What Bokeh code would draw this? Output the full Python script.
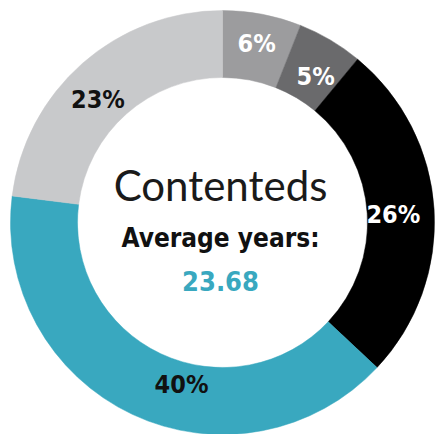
import math
from bokeh.plotting import figure
from bokeh.models import Range1d, ColumnDataSource
from bokeh.core.properties import value
from bokeh.embed import file_html
from bokeh.resources import INLINE

# ---- data ----
categories = ["A", "B", "C", "D", "E"]
shares = [6, 5, 26, 40, 23]
labels = ["6%", "5%", "26%", "40%", "23%"]
title_text = "Contenteds"
subtitle_text = "Average years:"
avg_text = "23.68"

# ---- style ----
colors = ["#9c9c9e", "#6a6a6c", "#000000", "#39a8bf", "#c8c9cb"]
label_colors = ["#ffffff", "#ffffff", "#ffffff", "#111111", "#111111"]
label_nudge_deg = [0, -2, -1, 11, 4]
label_radius = [182, 173, 171, 167, 175]
cond = value("DejaVu Sans Condensed")

W, H = 435, 434
cx, cy = 222, 212
r_out, r_in = 212, 145

total = sum(shares)
starts, ends, lx, ly = [], [], [], []
cum = 0.0
for i, s in enumerate(shares):
    a0 = math.pi / 2 - 2 * math.pi * cum / total
    cum += s
    a1 = math.pi / 2 - 2 * math.pi * cum / total
    starts.append(a0)
    ends.append(a1)
    mid = (a0 + a1) / 2 + math.radians(label_nudge_deg[i])
    lx.append(cx + label_radius[i] * math.cos(mid))
    ly.append(cy + label_radius[i] * math.sin(mid))

src = ColumnDataSource(dict(cat=categories, start=starts, end=ends, color=colors,
                            lx=lx, ly=ly, label=labels, lcolor=label_colors))

p = figure(width=W, height=H, output_backend="svg", toolbar_location=None,
           x_range=Range1d(0, W), y_range=Range1d(0, H),
           min_border=0, outline_line_color=None)
p.axis.visible = False
p.grid.visible = False
p.background_fill_color = "white"
p.border_fill_color = "white"

p.annular_wedge(x=cx, y=cy, inner_radius=r_in, outer_radius=r_out,
                start_angle="start", end_angle="end", direction="clock",
                fill_color="color", line_color="color", line_width=0.5, source=src)

p.text(x="lx", y="ly", text="label", text_color="lcolor", source=src,
       text_font=cond, text_font_style="bold",
       text_font_size="25px", text_align="center", text_baseline="middle")

p.text(x=[220], y=[250], text=[title_text], text_color="#1a1a1a",
       text_font=value("Lato"), text_font_size="42px",
       text_align="center", text_baseline="middle")
p.text(x=[220], y=[197], text=[subtitle_text], text_color="#111111",
       text_font=cond, text_font_style="bold",
       text_font_size="26px", text_align="center", text_baseline="middle")
p.text(x=[220], y=[154], text=[avg_text], text_color="#39a8bf",
       text_font=cond, text_font_style="bold",
       text_font_size="27px", text_align="center", text_baseline="middle")

open("out.html", "w").write(file_html(p, INLINE))
